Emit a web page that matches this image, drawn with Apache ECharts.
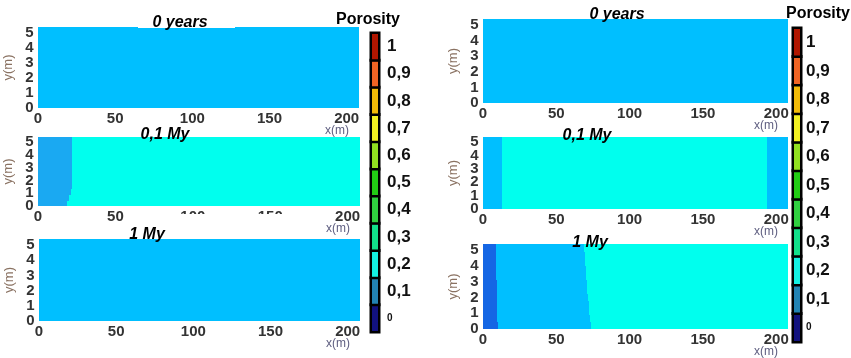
<!DOCTYPE html>
<html lang="en">
<head>
    <title>Porosity</title>
    <meta charset="utf-8">
    <script src="https://cdn.jsdelivr.net/npm/echarts@6.0.0/dist/echarts.min.js"></script>
    <style>
        html, body { margin: 0; padding: 0; background: #fff; }
        #chart { width: 851px; height: 358px; }
    </style>
</head>
<body>
    <div id="chart"></div>
    <script type="text/javascript">
        // colour bar levels
        var levelLabels = ['0', '0,1', '0,2', '0,3', '0,4', '0,5', '0,6', '0,7', '0,8', '0,9', '1'];
        var levelColors = ['#12127e', '#2282b2', '#14f0e2', '#12e08a', '#30d040', '#22cc14', '#92e020', '#f2f022', '#f2ba08', '#f06424', '#b01600'];

        var xTicks = [0, 50, 100, 150, 200];
        var yTicks = [0, 1, 2, 3, 4, 5];
        var xMax = 208, yMax = 5.4;
        var panelTitles = ['0 years', '0,1 My', '1 My', '0 years', '0,1 My', '1 My'];

        // porosity of each zone
        var phiHost = 0.16;
        var phiFront = 0.13;
        var phiAltered = 0.21;
        var phiDark = 0.06;

        // zone edges in m, one per 0.45 m row, from y = 0 up to the top
        var left01Edge = [19.0, 20.3, 21.5, 22.4, 22.6, 22.6, 22.6, 22.6, 22.6, 22.6, 22.6, 22.6];
        var right01LeftEdge = [13.6, 13.6, 13.6, 13.6, 13.6, 13.6, 13.6, 13.6, 13.6, 13.6, 13.6, 13.6];
        var right01RightEdge = [194.3, 194.3, 194.3, 194.3, 194.3, 194.3, 194.3, 194.3, 194.3, 194.3, 194.3, 194.3];
        var right1DarkEdge = [10.4, 10.2, 10.0, 9.9, 9.8, 9.7, 9.6, 9.5, 9.5, 9.4, 9.3, 9.3];
        var right1CyanEdge = [74.0, 73.4, 72.9, 72.4, 71.9, 71.4, 71.0, 70.6, 70.3, 70.0, 69.7, 69.5];

        var rowCount = 12;

        var panels = [
            { box: [38, 27, 321, 81], title: [180, 23], zones: [[null, phiHost]] },
            { box: [38, 137, 322, 69], title: [165, 135], zones: [[left01Edge, phiFront], [null, phiAltered]] },
            { box: [39, 239, 321, 82], title: [147, 235], zones: [[null, phiHost]] },
            { box: [483, 19, 305, 84], title: [617, 15], zones: [[null, phiHost]] },
            { box: [483, 137, 305, 72], title: [587, 136], zones: [[right01LeftEdge, phiHost], [right01RightEdge, phiAltered], [null, phiHost]] },
            { box: [483, 244, 305, 85], title: [590, 243], zones: [[right1DarkEdge, phiDark], [right1CyanEdge, phiHost], [null, phiAltered]] }
        ];
        var colorBars = [[371, 33, 8, 299], [793, 28, 8, 314]];

        // one cell per row and zone: [x0, x1, y0, y1, porosity]
        function buildField(zones) {
            var data = [];
            var dy = yMax / rowCount;
            for (var r = 0; r < rowCount; r++) {
                var x0 = 0;
                for (var z = 0; z < zones.length; z++) {
                    var x1 = zones[z][0] ? zones[z][0][r] : xMax;
                    data.push([x0, x1, r * dy, (r + 1) * dy, zones[z][1]]);
                    x0 = x1;
                }
            }
            return data;
        }

        function renderCell(params, api) {
            var p0 = api.coord([api.value(0), api.value(3)]);
            var p1 = api.coord([api.value(1), api.value(2)]);
            var x0 = Math.floor(p0[0]), y0 = Math.floor(p0[1]);
            return {
                type: 'rect',
                shape: { x: x0, y: y0, width: Math.ceil(p1[0]) - x0, height: Math.ceil(p1[1]) - y0 },
                style: { fill: api.visual('color') }
            };
        }

        var labelFont = '"Liberation Sans", Arial, sans-serif';
        var grids = [], xAxes = [], yAxes = [], series = [], tickSeries = [], graphics = [];

        // white patches of the original figure
        graphics.push({ type: 'rect', shape: { x: 138, y: 0, width: 97, height: 28 }, style: { fill: '#fff' }, z: 100 });
        graphics.push({ type: 'rect', shape: { x: 160, y: 214, width: 140, height: 11 }, style: { fill: '#fff' }, z: 100 });

        panels.forEach(function (p, i) {
            grids.push({ left: p.box[0], top: p.box[1], width: p.box[2], height: p.box[3], outerBoundsMode: 'none' });
            xAxes.push({
                type: 'value', gridIndex: i, position: 'bottom', min: 0, max: xMax, interval: 50,
                axisLine: { show: false }, axisTick: { show: false }, splitLine: { show: false },
                axisLabel: {
                    margin: 3, fontSize: 15, fontWeight: 'bold', color: '#333', fontFamily: labelFont,
                    showMinLabel: true, hideOverlap: false,
                    formatter: function (v) { return xTicks.indexOf(v) >= 0 ? String(v) : ''; }
                }
            });
            yAxes.push({
                type: 'value', gridIndex: i, position: 'left', min: 0, max: yMax, interval: 1,
                name: 'y(m)', nameLocation: 'middle', nameRotate: 90, nameGap: 23,
                nameTextStyle: { fontSize: 13, color: '#8a7262', fontFamily: labelFont },
                axisLine: { show: false }, axisTick: { show: false }, splitLine: { show: false },
                axisLabel: { show: false }
            });
            series.push({
                type: 'custom', xAxisIndex: i, yAxisIndex: i, renderItem: renderCell, clip: true,
                encode: { x: [0, 1], y: [2, 3] },
                data: buildField(p.zones), emphasis: { disabled: true }
            });
            // y tick labels, stacked tightly like the original
            tickSeries.push({
                type: 'scatter', xAxisIndex: i, yAxisIndex: i, clip: false, silent: true,
                symbolSize: 1, itemStyle: { color: 'transparent' },
                data: yTicks.map(function (v) { return [0, v]; }),
                label: {
                    show: true, position: 'left', distance: 4, opacity: 1,
                    fontSize: 15, fontWeight: 'bold', color: '#333', fontFamily: labelFont,
                    formatter: function (pr) { return String(pr.value[1]); }
                },
                labelLayout: { hideOverlap: false }
            });
            graphics.push({
                type: 'text', z: 101, x: p.title[0], y: p.title[1],
                style: { text: panelTitles[i], align: 'center', verticalAlign: 'middle', fontSize: 16, fontWeight: 'bold', fontStyle: 'italic', fontFamily: labelFont, fill: '#000' }
            });
            graphics.push({
                type: 'text', z: 101, x: p.box[0] + p.box[2] - 22, y: p.box[1] + p.box[3] + 23,
                style: { text: 'x(m)', align: 'center', verticalAlign: 'middle', fontSize: 12, fontFamily: labelFont, fill: '#5e5e80' }
            });
        });

        colorBars.forEach(function (b, k) {
            var gi = panels.length + k;
            grids.push({ left: b[0], top: b[1], width: b[2], height: b[3], outerBoundsMode: 'none' });
            xAxes.push({ type: 'category', gridIndex: gi, data: [''], show: false });
            yAxes.push({
                type: 'category', gridIndex: gi, data: levelLabels, position: 'right',
                axisLine: { show: false }, axisTick: { show: false }, splitLine: { show: false },
                axisLabel: {
                    interval: 0, margin: k === 0 ? 8 : 5, fontSize: 17, fontWeight: 'bold', color: '#111', fontFamily: labelFont,
                    formatter: function (v) { return v === '0' ? '{s|0}' : v; },
                    rich: { s: { fontSize: 10, fontWeight: 'bold', color: '#111', fontFamily: labelFont } }
                }
            });
            series.push({
                type: 'heatmap', xAxisIndex: gi, yAxisIndex: gi,
                data: levelLabels.map(function (l, idx) { return [0, idx, idx]; }),
                itemStyle: { borderColor: '#000', borderWidth: 2.5 },
                emphasis: { disabled: true }
            });
        });
        series = series.concat(tickSeries);

        graphics.push({ type: 'text', z: 101, x: 368, y: 20, style: { text: 'Porosity', align: 'center', verticalAlign: 'middle', fontSize: 16, fontWeight: 'bold', fontFamily: labelFont, fill: '#000' } });
        graphics.push({ type: 'text', z: 101, x: 786, y: 14, style: { text: 'Porosity', align: 'left', verticalAlign: 'middle', fontSize: 16, fontWeight: 'bold', fontFamily: labelFont, fill: '#000' } });

        var option = {
            backgroundColor: '#fff',
            animation: false,
            grid: grids,
            xAxis: xAxes,
            yAxis: yAxes,
            visualMap: [
                {
                    type: 'piecewise', show: false, dimension: 4, seriesIndex: [0, 1, 2, 3, 4, 5],
                    pieces: [
                        { lt: 0.1, color: '#1566e4' },
                        { gte: 0.1, lt: 0.145, color: '#1aa9f2' },
                        { gte: 0.145, lt: 0.185, color: '#00bfff' },
                        { gte: 0.185, color: '#00ffee' }
                    ]
                },
                {
                    type: 'piecewise', show: false, dimension: 2, seriesIndex: [6, 7],
                    pieces: levelColors.map(function (col, idx) { return { value: idx, color: col }; })
                }
            ],
            graphic: graphics,
            series: series
        };

        var chart = echarts.init(document.getElementById('chart'));
        chart.setOption(option);
    </script>
</body>
</html>
